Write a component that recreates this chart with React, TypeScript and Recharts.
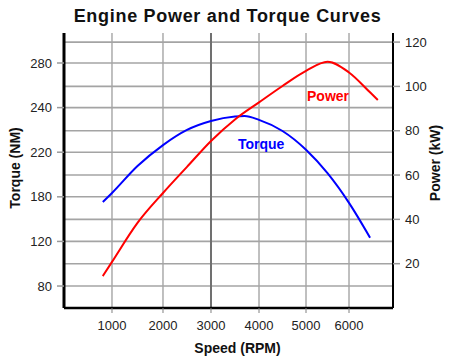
import React from 'react';
import { LineChart, Line, XAxis, YAxis, CartesianGrid, ReferenceLine } from 'recharts';

// ---- data ----
const rpmTicks = [1000, 2000, 3000, 4000, 5000, 6000];
const torqueTicks = [80, 120, 180, 220, 240, 280];
const powerTicks = [20, 40, 60, 80, 100, 120];

const torqueRpm = [820, 1000, 1500, 2000, 2500, 3000, 3500, 3700, 4000, 4500, 5000, 5500, 6000, 6490];
const torqueValues = [173, 183.4, 207.6, 223.2, 230, 234, 236, 236.2, 234.5, 229.5, 221.1, 201.2, 171.9, 125];

const powerRpm = [820, 1000, 1500, 2000, 2500, 3000, 3500, 4000, 4500, 5000, 5500, 6000, 6500, 6670];
const powerValues = [14.4, 20.8, 38.4, 51.9, 63.7, 75.4, 85.1, 92.8, 100.2, 107.0, 111.1, 106.3, 97.1, 93.9];

const torqueData = torqueRpm.map((rpm, i) => ({ rpm, torque: torqueValues[i] }));
const powerData = powerRpm.map((rpm, i) => ({ rpm, power: powerValues[i] }));

// ---- axis geometry (the original axes are not linear) ----
const rpmTickSpacing = [0, 51, 99, 147, 194, 237];
const torqueTickSpacing = [0, 1, 2, 3, 4, 5];

function piecewiseScale(knots: number[], spots: number[]): any {
  let dom: number[] = [knots[0], knots[knots.length - 1]];
  let ran: number[] = [0, 1];
  const toSpot = (v: number) => {
    const n = knots.length;
    let i = 0;
    while (i < n - 2 && v > knots[i + 1]) i++;
    const t = (v - knots[i]) / (knots[i + 1] - knots[i]);
    return spots[i] + t * (spots[i + 1] - spots[i]);
  };
  const scale: any = (v: number) => {
    const s0 = toSpot(dom[0]);
    const s1 = toSpot(dom[dom.length - 1]);
    return ran[0] + ((toSpot(Number(v)) - s0) / (s1 - s0)) * (ran[ran.length - 1] - ran[0]);
  };
  scale.domain = (d?: any[]) => {
    if (d === undefined) return dom.slice();
    dom = d.map(Number);
    return scale;
  };
  scale.range = (r?: number[]) => {
    if (r === undefined) return ran.slice();
    ran = r.slice();
    return scale;
  };
  scale.copy = () => piecewiseScale(knots, spots).domain(dom).range(ran);
  scale.ticks = () => knots.slice();
  return scale;
}

const xScale = piecewiseScale(rpmTicks, rpmTickSpacing);
const torqueScale = piecewiseScale(torqueTicks, torqueTickSpacing);

const FONT = '"Liberation Sans", Arial, sans-serif';
const tickStyle = { fontFamily: FONT, fontSize: 13, fill: '#222' };

export default function App() {
  return (
    <div style={{ position: 'absolute', left: 0, top: 0, width: 450, height: 360, background: '#fff' }}>
      <LineChart width={450} height={360} margin={{ top: 33, right: 0, bottom: 0, left: 0 }}>
        <CartesianGrid horizontal={false} stroke="#808080" strokeWidth={1} xAxisId="x" yAxisId="left" />
        <XAxis
          xAxisId="x"
          dataKey="rpm"
          type="number"
          scale={xScale}
          domain={[59, 7023]}
          ticks={rpmTicks}
          height={52}
          tickSize={5}
          tickMargin={8}
          tick={tickStyle}
          tickLine={{ stroke: '#808080', strokeWidth: 1 }}
          axisLine={{ stroke: '#000', strokeWidth: 2.5 }}
          allowDataOverflow
        />
        <YAxis
          yAxisId="left"
          orientation="left"
          type="number"
          scale={torqueScale}
          domain={[60.3, 306.9]}
          ticks={torqueTicks}
          width={64}
          tickSize={7}
          tickMargin={5}
          tick={tickStyle}
          tickLine={{ stroke: '#999', strokeWidth: 1.5 }}
          axisLine={{ stroke: '#000', strokeWidth: 3 }}
          allowDataOverflow
        />
        <YAxis
          yAxisId="right"
          orientation="right"
          type="number"
          domain={[0, 124.1]}
          ticks={powerTicks}
          width={57}
          tickSize={7}
          tickMargin={5}
          tick={{ ...tickStyle, textAnchor: 'start' }}
          tickLine={{ stroke: '#999', strokeWidth: 1.5 }}
          axisLine={{ stroke: '#000', strokeWidth: 2 }}
          allowDataOverflow
        />
        {torqueTicks.map((v) => (
          <ReferenceLine key={'t' + v} xAxisId="x" yAxisId="left" y={v} stroke="#a4a4a4" strokeWidth={1.6} />
        ))}
        {powerTicks.map((v) => (
          <ReferenceLine key={'p' + v} xAxisId="x" yAxisId="right" y={v} stroke="#a4a4a4" strokeWidth={1.6} />
        ))}
        <ReferenceLine xAxisId="x" yAxisId="left" x={3000} stroke="#707070" strokeWidth={2} />
        <Line
          xAxisId="x"
          yAxisId="left"
          data={torqueData}
          dataKey="torque"
          type="monotone"
          stroke="#0000ff"
          strokeWidth={2}
          dot={false}
          isAnimationActive={false}
        />
        <Line
          xAxisId="x"
          yAxisId="right"
          data={powerData}
          dataKey="power"
          type="monotone"
          stroke="#ff0000"
          strokeWidth={2}
          dot={false}
          isAnimationActive={false}
        />
      </LineChart>
      <svg
        width={450}
        height={360}
        style={{ position: 'absolute', left: 0, top: 0, pointerEvents: 'none' }}
        fontFamily={FONT}
      >
        <text x={227.5} y={22} textAnchor="middle" fontSize={18} fontWeight="bold" fill="#111" letterSpacing={0.7}>
          Engine Power and Torque Curves
        </text>
        <text x={20} y={168} transform="rotate(-90 20 168)" textAnchor="middle" fontSize={14} fontWeight="bold" fill="#111">
          Torque (NM)
        </text>
        <text x={440} y={163} transform="rotate(-90 440 163)" textAnchor="middle" fontSize={14} fontWeight="bold" fill="#111">
          Power (kW)
        </text>
        <text x={237.5} y={353} textAnchor="middle" fontSize={14} fontWeight="bold" fill="#111">
          Speed (RPM)
        </text>
        <text x={307} y={101} fontSize={14} fontWeight="bold" fill="#ff0000">
          Power
        </text>
        <text x={238} y={149} fontSize={14} fontWeight="bold" fill="#0000ff">
          Torque
        </text>
      </svg>
    </div>
  );
}
